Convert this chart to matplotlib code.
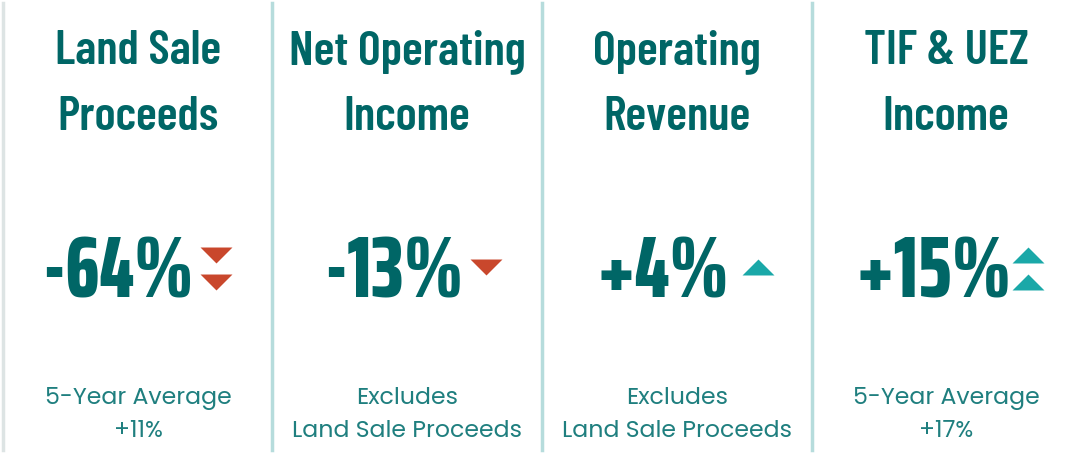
import matplotlib.pyplot as plt
from matplotlib.path import Path

titles = [("Land Sale", "Proceeds"), ("Net Operating", "Income"),
          ("Operating", "Revenue"), ("TIF & UEZ", "Income")]
changes = ["-64%", "-13%", "+4%", "+15%"]
arrow_dir = ["down", "down", "up", "up"]
arrow_count = [2, 1, 1, 2]
notes = [("5-Year Average", "+11%"), ("Excludes", "Land Sale Proceeds"),
         ("Excludes", "Land Sale Proceeds"), ("5-Year Average", "+17%")]

dark = "#006666"
light_txt = "#1f7f7f"
red = "#c9472c"
teal = "#1aa8a8"

head_font = ["Barlow Condensed", "Saira Condensed", "DejaVu Sans"]
num_font = ["Saira ExtraCondensed", "Barlow Condensed", "DejaVu Sans"]
body_font = ["Poppins", "Noto Sans", "DejaVu Sans"]

fig = plt.figure(figsize=(10.8, 4.53), dpi=100)
ax = fig.add_axes([0, 0, 1, 1])
ax.set_xlim(0, 1080)
ax.set_ylim(453, 0)
ax.axis("off")

centers = [138, 407, 677, 946]
num_x = [118, 394, 663, 933]
arrow_x = [216, 486, 758, 1028]

# flat triangle markers
down_tri = Path([(-1, 0.5), (1, 0.5), (0, -0.5), (-1, 0.5)])
up_tri = Path([(-1, -0.5), (1, -0.5), (0, 0.5), (-1, -0.5)])

# divider lines
ax.plot([3, 3], [3, 450], color="#dde4e4", lw=2.5)
for x in [272, 542, 812]:
    ax.plot([x, x], [3, 450], color="#b6dcdc", lw=2.5)

for i in range(4):
    ax.text(centers[i], 64, titles[i][0], ha="center", va="baseline",
            fontsize=35, fontweight=600, family=head_font, color=dark)
    ax.text(centers[i], 130, titles[i][1], ha="center", va="baseline",
            fontsize=35, fontweight=600, family=head_font, color=dark)
    ax.text(num_x[i], 298, changes[i], ha="center", va="baseline",
            fontsize=63, fontweight=800, family=num_font, color=dark)
    col = red if arrow_dir[i] == "down" else teal
    mk = down_tri if arrow_dir[i] == "down" else up_tri
    ys = [255, 282] if arrow_count[i] == 2 else [267]
    for y in ys:
        ax.plot(arrow_x[i], y, marker=mk, markersize=23, color=col,
                markeredgewidth=0, linestyle="none")
    ax.text(centers[i], 404, notes[i][0], ha="center", va="baseline",
            fontsize=17, family=body_font, fontweight="normal", color=light_txt)
    ax.text(centers[i], 437, notes[i][1], ha="center", va="baseline",
            fontsize=17, family=body_font, fontweight="normal", color=light_txt)

fig.savefig("out.png", dpi=100, facecolor="white")
